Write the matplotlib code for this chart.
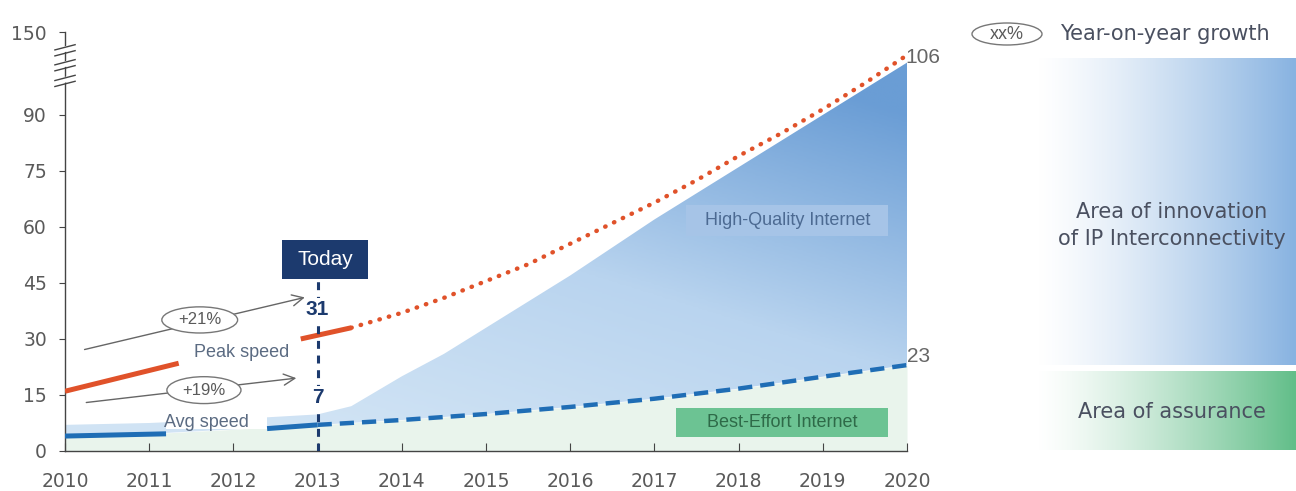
import numpy as np
import matplotlib.pyplot as plt
from matplotlib.patches import Ellipse, Rectangle
from matplotlib.colors import LinearSegmentedColormap

plt.rcParams['font.family'] = ['Liberation Sans', 'DejaVu Sans']

# peak speed, measured part (two solid pieces) and forecast (dotted)
peak_years_a = [2010, 2011.35]
peak_vals_a = [16, 23.5]
peak_years_b = [2012.8, 2013, 2013.4]
peak_vals_b = [30, 31, 33]
peak_fc_years = [2013.4, 2014, 2014.5, 2015, 2015.5, 2016, 2016.5, 2017, 2017.5,
                 2018, 2018.5, 2019, 2019.5, 2020]
peak_fc_vals = [33, 37, 41, 45.5, 50, 55.5, 61, 66.5, 72.5, 79, 85, 91.5, 98.5, 106]

# average speed, measured and forecast
avg_years_a = [2010, 2011.2]
avg_vals_a = [4.0, 4.6]
avg_years_b = [2012.4, 2013]
avg_vals_b = [6.0, 7.0]
avg_years = [2010, 2011, 2012, 2013, 2014, 2015, 2016, 2017, 2018, 2019, 2020]
avg_vals = [4.0, 4.6, 5.8, 7.0, 8.3, 9.9, 11.8, 14.0, 16.7, 19.9, 23.0]

# upper edge of the high-quality area
hq_years = [2010, 2011, 2012, 2013, 2013.4, 2014, 2014.5, 2015, 2015.5, 2016, 2016.5,
            2017, 2017.5, 2018, 2018.5, 2019, 2019.5, 2020]
hq_vals = [7, 7.5, 8.5, 9.8, 12, 20, 26, 33, 40, 47, 54.5, 62, 69, 76, 83, 90, 97, 104]

year_ticks = list(range(2010, 2021))
y_ticks = [0, 15, 30, 45, 60, 75, 90]
y_top = 112.2  # axis top, labelled 150 after the break

navy = '#1c3a6e'
red = '#e0522a'
blue = '#1f6db5'
grey = '#5a5a5a'
label_grey = '#5b6b82'

fig = plt.figure(figsize=(12.96, 4.91), dpi=100)
ax = fig.add_axes([65 / 1296, 1 - 451 / 491, (907 - 65) / 1296, (451 - 32) / 491])
ax.set_xlim(2010, 2020)
ax.set_ylim(0, y_top)

# pale green area under the average speed
ax.fill_between(avg_years, 0, avg_vals, color='#e9f4ec', lw=0, zorder=1)

# blue area with a gradient, clipped to the region between avg and hq edge
lower = np.interp(hq_years, avg_years, avg_vals)
poly = ax.fill_between(hq_years, lower, hq_vals, color='none', lw=0, zorder=2)
cmap = LinearSegmentedColormap.from_list('hq', ['#d3e5f5', '#b9d4ef', '#6a9dd5'])
gx, gy = np.meshgrid(np.linspace(2010, 2020, 300), np.linspace(0, y_top, 300))
grad = np.clip(0.75 * gy / 105 + 0.35 * np.clip((gx - 2013) / 7, 0, 1), 0, 1)
im = ax.imshow(grad, extent=[2010, 2020, 0, y_top], origin='lower', cmap=cmap,
               aspect='auto', zorder=2, vmin=0, vmax=1)
im.set_clip_path(poly.get_paths()[0], transform=ax.transData)

# white gap where the avg speed label sits
ax.add_patch(Rectangle((2011.2, 6.0), 1.2, 4.5, fc='white', ec='none', zorder=3))

# speed lines
ax.plot(peak_years_a, peak_vals_a, color=red, lw=3.6, solid_capstyle='butt', zorder=5)
ax.plot(peak_years_b, peak_vals_b, color=red, lw=3.6, solid_capstyle='butt', zorder=5)
ax.plot(peak_fc_years, peak_fc_vals, color=red, lw=3.2, linestyle=(0, (0.1, 2.1)),
        dash_capstyle='round', zorder=5)
ax.plot(avg_years_a, avg_vals_a, color=blue, lw=3.6, solid_capstyle='butt', zorder=5)
ax.plot(avg_years_b, avg_vals_b, color=blue, lw=3.6, solid_capstyle='butt', zorder=5)
ax.plot(avg_years[3:], avg_vals[3:], color=blue, lw=3.2, dashes=(3.2, 1.8), zorder=5)

# "Today" marker
ax.plot([2013, 2013], [0, 46], color=navy, lw=2.2, dashes=(2.6, 2.2), zorder=6)
ax.add_patch(Rectangle((2012.58, 46.1), 1.02, 10.4, fc=navy, ec='none', zorder=7))
ax.text(2013.09, 51.2, 'Today', color='white', fontsize=15, ha='center', va='center',
        zorder=8)
ax.text(2013, 37.8, '31', color=navy, fontsize=15, fontweight='bold', ha='center',
        va='center', zorder=7,
        bbox=dict(boxstyle='square,pad=0.1', fc='white', ec='none'))
ax.text(2013, 14.2, '7', color=navy, fontsize=15, fontweight='bold', ha='center',
        va='center', zorder=7,
        bbox=dict(boxstyle='square,pad=0.1', fc='white', ec='none'))
ax.text(2019.98, 105.3, '106', color='#666666', fontsize=15, ha='left', va='center',
        zorder=7)
ax.text(2020.0, 25.2, '23', color='#666666', fontsize=15, ha='left', va='center',
        zorder=7)

# growth arrows with ellipse labels
arrow = dict(arrowstyle='->', color='#666666', lw=1.0, mutation_scale=20)
ax.annotate('', xy=(2012.88, 41.3), xytext=(2010.2, 27), arrowprops=arrow, zorder=4)
ax.annotate('', xy=(2012.78, 19.6), xytext=(2010.22, 12.9), arrowprops=arrow, zorder=4)
for cx, cy, w, h, txt in [(2011.6, 35.1, 0.9, 7.0, '+21%'),
                          (2011.65, 16.3, 0.88, 7.2, '+19%')]:
    ax.add_patch(Ellipse((cx, cy), w, h, fc='white', ec='#777777', lw=1.0, zorder=6))
    ax.text(cx, cy, txt, color=grey, fontsize=12, ha='center', va='center', zorder=7)
ax.text(2012.1, 26.4, 'Peak speed', color=label_grey, fontsize=13, ha='center',
        va='center', zorder=7)
ax.text(2011.68, 7.6, 'Avg speed', color=label_grey, fontsize=13, ha='center',
        va='center', zorder=7)

# area labels
ax.add_patch(Rectangle((2017.38, 57.6), 2.4, 8.3, fc='#a6c4e7', ec='none', zorder=6))
ax.text(2018.58, 61.8, 'High-Quality Internet', color='#4c6a92', fontsize=13,
        ha='center', va='center', zorder=7)
ax.add_patch(Rectangle((2017.26, 3.8), 2.52, 7.8, fc='#6cc393', ec='none', zorder=6))
ax.text(2018.52, 7.7, 'Best-Effort Internet', color='#2e6a48', fontsize=13,
        ha='center', va='center', zorder=7)

# axes styling
for side in ['top', 'right']:
    ax.spines[side].set_visible(False)
for side in ['left', 'bottom']:
    ax.spines[side].set_color('#444444')
    ax.spines[side].set_linewidth(1.0)
ax.set_xticks(year_ticks)
ax.set_xticklabels([str(y) for y in year_ticks], family='DejaVu Sans')
ax.set_yticks(y_ticks + [y_top])
ax.set_yticklabels([str(v) for v in y_ticks] + ['150'], family='DejaVu Sans')
ax.tick_params(axis='x', direction='in', length=6, colors='#444444', labelsize=13.5,
               labelcolor=grey, pad=15)
ax.tick_params(axis='y', direction='out', length=4, colors='#444444', labelsize=13.5,
               labelcolor=grey, pad=9)

# axis break marks between 90 and 150
for yb in [100, 104.2, 108.2]:
    ax.plot([-0.012, 0.012], [yb - 1.4, yb + 0.2], color='white', lw=4,
            transform=ax.get_yaxis_transform(), clip_on=False, zorder=8)
    for off in [-1.4, 0.2]:
        ax.plot([-0.012, 0.012], [yb + off - 1.0, yb + off + 0.4], color='#444444',
                lw=1.0, transform=ax.get_yaxis_transform(), clip_on=False, zorder=9)

# right-hand key: gradient panels
def panel(x0, y0, x1, y1, colour):
    pax = fig.add_axes([x0 / 1296, 1 - y1 / 491, (x1 - x0) / 1296, (y1 - y0) / 491])
    cm = LinearSegmentedColormap.from_list('p', ['#ffffff', colour])
    g = np.linspace(0, 1, 256) ** 1.3
    pax.imshow(g[None, :], cmap=cm, aspect='auto', extent=[0, 1, 0, 1])
    pax.set_axis_off()
    return pax

panel(1035, 58, 1296, 365, '#88b3e1')
panel(1035, 371, 1296, 450, '#62be89')

key_text = '#4a5060'
fig.text(1172 / 1296, 1 - 212 / 491, 'Area of innovation', color=key_text,
         fontsize=15, ha='center', va='center', family='DejaVu Sans')
fig.text(1172 / 1296, 1 - 239 / 491, 'of IP Interconnectivity', color=key_text,
         fontsize=15, ha='center', va='center', family='DejaVu Sans')
fig.text(1172 / 1296, 1 - 412 / 491, 'Area of assurance', color=key_text,
         fontsize=15, ha='center', va='center', family='DejaVu Sans')

# growth legend
kax = fig.add_axes([0, 0, 1, 1], facecolor='none')
kax.set_xlim(0, 1296)
kax.set_ylim(491, 0)
kax.set_axis_off()
kax.add_patch(Ellipse((1007, 34), 70, 22, fc='white', ec='#777777', lw=1.0))
kax.text(1007, 34, 'xx%', color=grey, fontsize=13, ha='center', va='center')
kax.text(1060, 34, 'Year-on-year growth', color=key_text, fontsize=15, ha='left',
         va='center', family='DejaVu Sans')

fig.savefig('out.png', dpi=100)
